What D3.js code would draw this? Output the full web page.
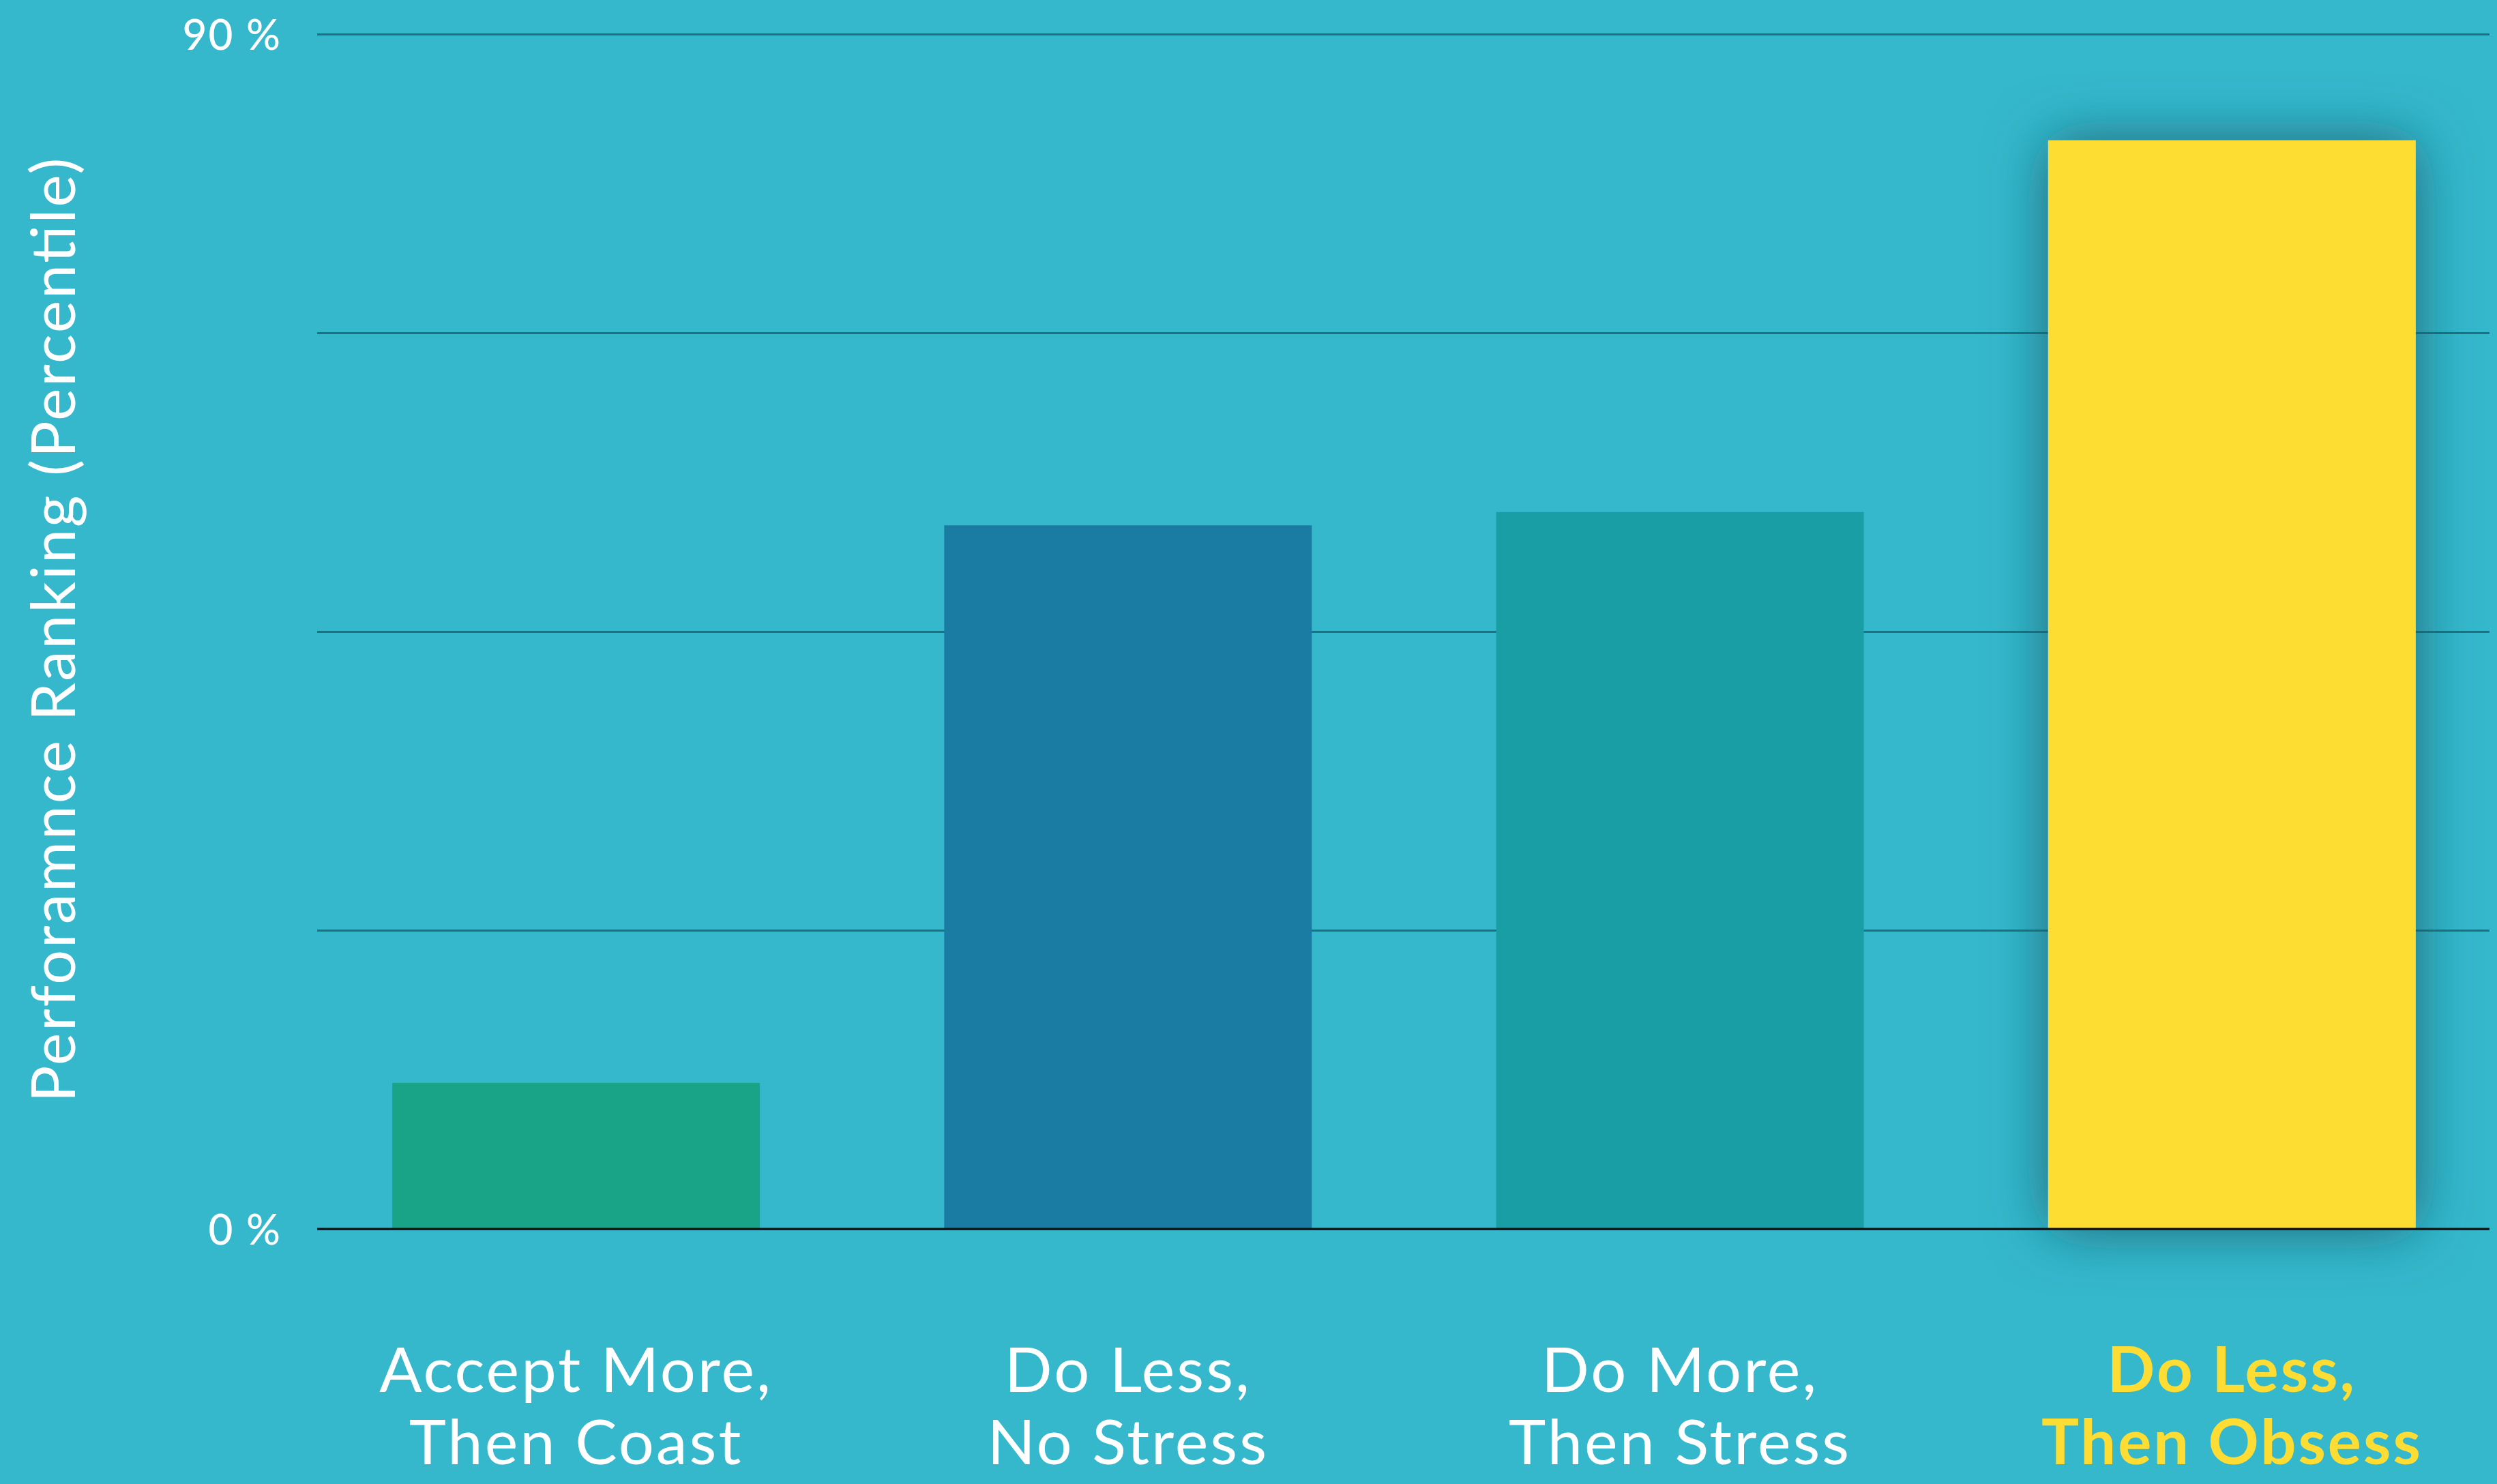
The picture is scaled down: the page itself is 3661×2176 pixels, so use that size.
<!DOCTYPE html>
<html>
<head>
<meta charset="utf-8">
<script src="https://cdn.jsdelivr.net/npm/d3@7"></script>
<style>
  html, body { margin: 0; padding: 0; background: #35B8CC; }
  svg { display: block; }
</style>
</head>
<body>
<svg id="chart" width="3661" height="2176"></svg>
<script>
// ---- data ----
const categories = [
  ["Accept More,", "Then Coast"],
  ["Do Less,", "No Stress"],
  ["Do More,", "Then Stress"],
  ["Do Less,", "Then Obsess"]
];
const values = [11, 53, 54, 82];
const barColors = ["#1AA487", "#1A7CA3", "#199EA6", "#FDDD33"];
const highlight = [false, false, false, true];
const gridTicks = [0, 22.5, 45, 67.5, 90];
const tickLabels = {0: "0 %", 90: "90 %"};
const yTitle = "Perforamnce Ranking (Percentile)";

// ---- layout ----
const W = 3661, H = 2176;
const plotLeft = 465, plotRight = 3650, plotTop = 50, plotBottom = 1802;
const svg = d3.select("#chart");
svg.append("rect").attr("width", W).attr("height", H).attr("fill", "#35B8CC");

const defs = svg.append("defs");
const f = defs.append("filter").attr("id", "shadow")
  .attr("x", "-50%").attr("y", "-25%").attr("width", "200%").attr("height", "150%");
f.append("feDropShadow").attr("dx", 0).attr("dy", 0).attr("stdDeviation", 42)
  .attr("flood-color", "#145A68").attr("flood-opacity", 0.85);

const y = d3.scaleLinear().domain([0, 90]).range([plotBottom, plotTop]);
const x = d3.scaleBand().domain(d3.range(categories.length))
  .range([440, 3677]).paddingInner(0.334).paddingOuter(0.167);

// gridlines + tick labels via axis
const yAxis = d3.axisLeft(y)
  .tickValues(gridTicks)
  .tickSize(-(plotRight - plotLeft))
  .tickPadding(52)
  .tickFormat(d => tickLabels[d] || "");
const gAxis = svg.append("g").attr("transform", `translate(${plotLeft},0)`).call(yAxis);
gAxis.select(".domain").remove();
gAxis.selectAll(".tick line").attr("stroke", "#22707E").attr("stroke-width", 3);
gAxis.selectAll(".tick text")
  .attr("fill", "#ffffff")
  .attr("font-family", "Lato, 'Open Sans', sans-serif")
  .attr("font-size", 62)
  .attr("font-weight", 500)
  .attr("letter-spacing", 2)
  .attr("dy", "0.36em");

// bars
svg.append("g").selectAll("rect").data(values).join("rect")
  .attr("x", (d, i) => x(i))
  .attr("width", x.bandwidth())
  .attr("y", d => y(d))
  .attr("height", d => y(0) - y(d))
  .attr("fill", (d, i) => barColors[i])
  .attr("filter", (d, i) => highlight[i] ? "url(#shadow)" : null);

// zero baseline
svg.append("line")
  .attr("x1", plotLeft).attr("x2", plotRight)
  .attr("y1", y(0)).attr("y2", y(0))
  .attr("stroke", "#0b0b0b").attr("stroke-width", 3);

// category labels
const labs = svg.append("g").selectAll("text").data(categories).join("text")
  .attr("x", (d, i) => x(i) + x.bandwidth() / 2)
  .attr("y", 2041)
  .attr("text-anchor", "middle")
  .attr("font-family", "Lato, 'Open Sans', sans-serif")
  .attr("font-size", 92)
  .attr("letter-spacing", 3)
  .attr("font-weight", (d, i) => highlight[i] ? 700 : 400)
  .attr("fill", (d, i) => highlight[i] ? "#FDDD33" : "#ffffff");
labs.each(function(d, i) {
  const t = d3.select(this);
  d.forEach((line, k) => {
    t.append("tspan")
      .attr("x", x(i) + x.bandwidth() / 2)
      .attr("dy", k === 0 ? 0 : 106)
      .text(line);
  });
});

// y axis title
svg.append("text")
  .attr("transform", `translate(110, 924) rotate(-90)`)
  .attr("text-anchor", "middle")
  .attr("font-family", "Lato, 'Open Sans', sans-serif")
  .attr("font-size", 90)
  .attr("fill", "#ffffff")
  .attr("textLength", 1385)
  .attr("lengthAdjust", "spacing")
  .text(yTitle);
</script>
</body>
</html>
